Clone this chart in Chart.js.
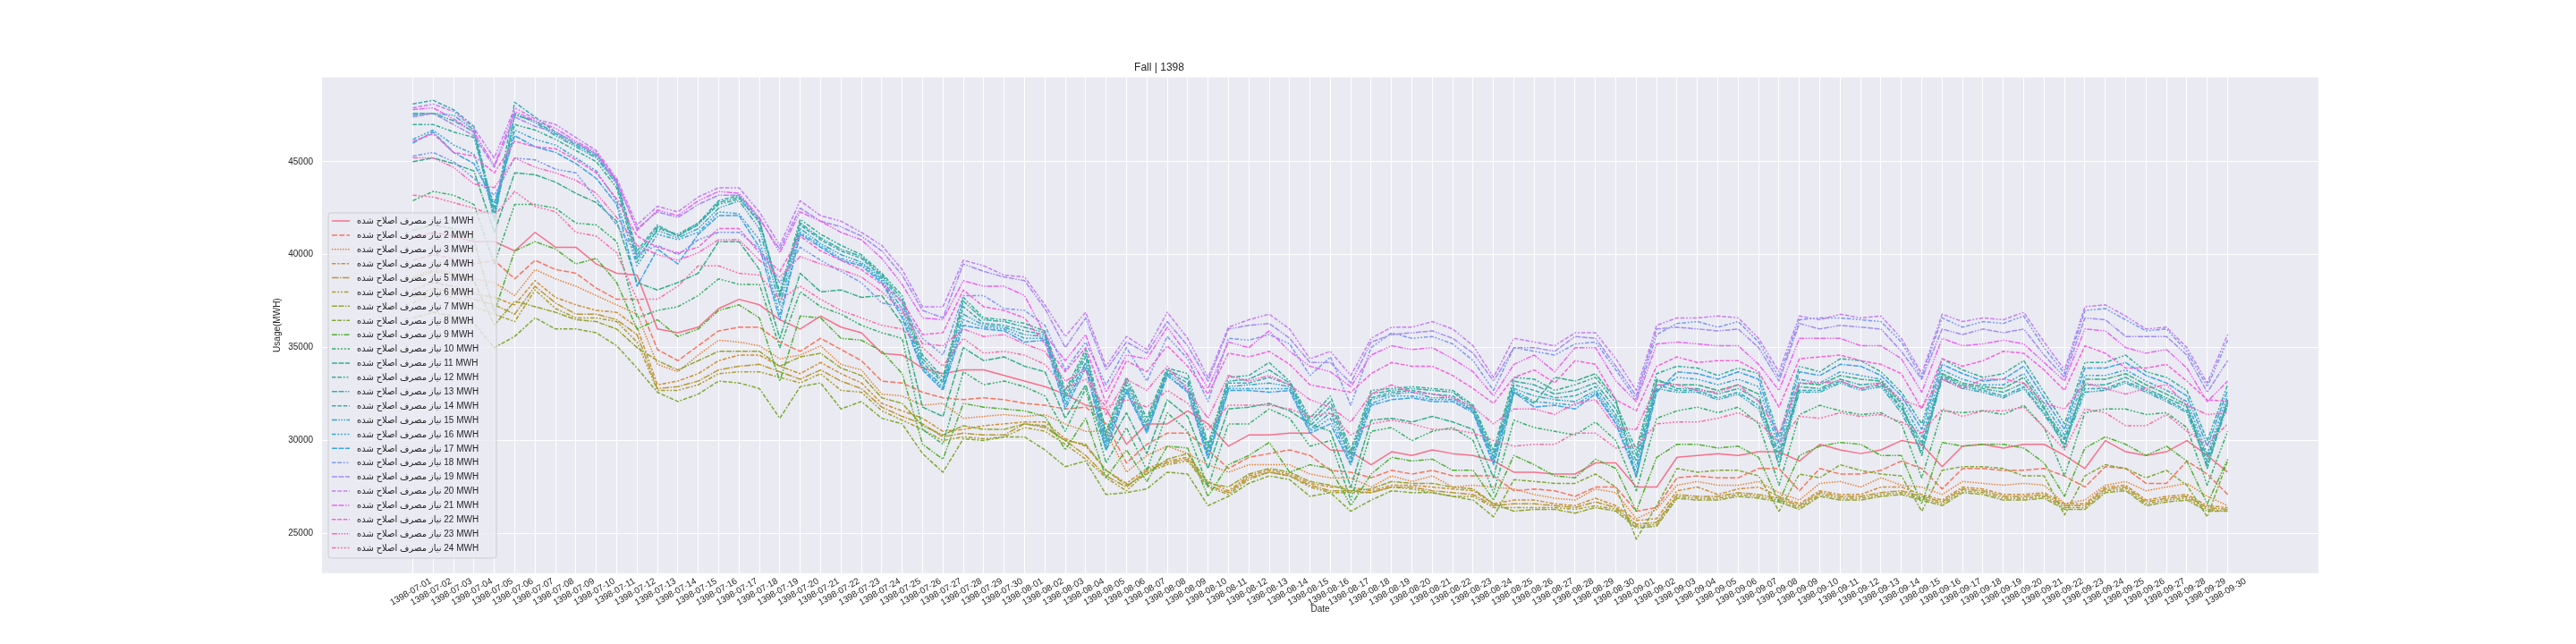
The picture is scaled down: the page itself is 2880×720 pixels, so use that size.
<!DOCTYPE html>
<html><head><meta charset="utf-8">
<script src="https://cdn.jsdelivr.net/npm/chart.js@4.4.1/dist/chart.umd.min.js"></script>
<style>html,body{margin:0;padding:0;background:#fff;}#wrap{width:2880px;height:720px;}</style>
</head><body><div id="wrap"><canvas id="c" width="2880" height="720"></canvas></div>
<script>
const dates = ["1398-07-01","1398-07-02","1398-07-03","1398-07-04","1398-07-05","1398-07-06","1398-07-07","1398-07-08","1398-07-09","1398-07-10",
"1398-07-11","1398-07-12","1398-07-13","1398-07-14","1398-07-15","1398-07-16","1398-07-17","1398-07-18","1398-07-19","1398-07-20",
"1398-07-21","1398-07-22","1398-07-23","1398-07-24","1398-07-25","1398-07-26","1398-07-27","1398-07-28","1398-07-29","1398-07-30",
"1398-08-01","1398-08-02","1398-08-03","1398-08-04","1398-08-05","1398-08-06","1398-08-07","1398-08-08","1398-08-09","1398-08-10",
"1398-08-11","1398-08-12","1398-08-13","1398-08-14","1398-08-15","1398-08-16","1398-08-17","1398-08-18","1398-08-19","1398-08-20",
"1398-08-21","1398-08-22","1398-08-23","1398-08-24","1398-08-25","1398-08-26","1398-08-27","1398-08-28","1398-08-29","1398-08-30",
"1398-09-01","1398-09-02","1398-09-03","1398-09-04","1398-09-05","1398-09-06","1398-09-07","1398-09-08","1398-09-09","1398-09-10",
"1398-09-11","1398-09-12","1398-09-13","1398-09-14","1398-09-15","1398-09-16","1398-09-17","1398-09-18","1398-09-19","1398-09-20",
"1398-09-21","1398-09-22","1398-09-23","1398-09-24","1398-09-25","1398-09-26","1398-09-27","1398-09-28","1398-09-29","1398-09-30"];

const seriesNames = ["نیاز مصرف اصلاح شده 1 MWH","نیاز مصرف اصلاح شده 2 MWH","نیاز مصرف اصلاح شده 3 MWH","نیاز مصرف اصلاح شده 4 MWH",
"نیاز مصرف اصلاح شده 5 MWH","نیاز مصرف اصلاح شده 6 MWH","نیاز مصرف اصلاح شده 7 MWH","نیاز مصرف اصلاح شده 8 MWH",
"نیاز مصرف اصلاح شده 9 MWH","نیاز مصرف اصلاح شده 10 MWH","نیاز مصرف اصلاح شده 11 MWH","نیاز مصرف اصلاح شده 12 MWH",
"نیاز مصرف اصلاح شده 13 MWH","نیاز مصرف اصلاح شده 14 MWH","نیاز مصرف اصلاح شده 15 MWH","نیاز مصرف اصلاح شده 16 MWH",
"نیاز مصرف اصلاح شده 17 MWH","نیاز مصرف اصلاح شده 18 MWH","نیاز مصرف اصلاح شده 19 MWH","نیاز مصرف اصلاح شده 20 MWH",
"نیاز مصرف اصلاح شده 21 MWH","نیاز مصرف اصلاح شده 22 MWH","نیاز مصرف اصلاح شده 23 MWH","نیاز مصرف اصلاح شده 24 MWH"];

const yTicks = [25000, 30000, 35000, 40000, 45000];

const h1 = [40900,41200,41000,40700,40700,40200,41200,40400,40400,39500,39000,38900,36000,35800,36100,37100,37600,37300,36500,36000,36700,36100,35800,34700,34600,33900,33600,33800,33800,33500,33200,32900,32500,31900,31700,29800,30900,30900,31600,30900,29700,30300,30300,30400,30400,29500,29400,28700,29400,29200,29500,29300,29200,28900,28300,28300,28200,28200,28800,28800,27500,27500,29100,29200,29300,29200,29400,29400,28900,29800,29500,29300,29500,30000,29800,28600,29700,29800,29600,29800,29800,29200,28500,30000,29400,29200,29400,30000,29200,28300];
const h2 = [39700,40000,39800,39500,39700,38700,39700,39200,39000,38200,37600,37600,34900,34300,35100,35900,36100,36100,35300,34800,35500,34900,34300,33200,33100,32600,32300,32200,32300,32200,32000,31900,31700,31800,30900,28800,29800,30400,30400,29500,28500,29100,29300,29500,29200,28400,28300,28000,28400,28200,28400,28100,28100,28100,27300,27400,27300,27000,27500,27500,26200,26400,28000,28100,28000,28000,28500,28500,27300,28500,28200,28200,28400,28900,28500,27400,28500,28500,28400,28400,28500,28100,27500,28600,28500,27700,27700,28900,28200,27100];
const h3 = [38800,39200,39000,38700,38500,37800,39200,38700,38300,37800,37300,36800,34100,33700,34600,35400,35300,35100,34400,34600,35100,34100,33800,32500,32400,31900,32000,31200,31300,31400,31300,31400,30900,30500,30500,28300,29200,29700,29300,28700,28300,28700,28700,28700,28200,28000,28000,27500,28100,27800,28100,27500,27600,27500,27400,27100,26900,26800,27400,27200,25800,26300,27600,27800,27600,27600,27800,27200,26800,27700,27800,27500,28000,27600,27500,27100,27800,27700,27600,27700,27600,26600,26800,27600,27800,27300,27500,27700,27000,26500];
const h4 = [38100,38500,38300,37900,37700,37300,38600,37700,37300,37000,36900,36100,33000,33200,33600,34300,34600,34600,34000,33600,34200,33600,33100,32000,31600,31200,30500,30600,30800,30900,31000,31000,30100,29700,28400,27700,28500,28900,29100,27800,27300,28100,28400,28200,27700,27500,27500,27300,27600,27600,27500,27400,27300,26600,26800,26800,26600,26500,26900,26500,25700,25800,27300,27500,27100,27400,27500,27000,26600,27300,27100,27100,27500,27500,27100,26800,27500,27400,27100,27100,27200,26600,26600,27500,27600,26800,27000,27100,26500,26400];
const h5 = [37700,38200,38000,37600,37300,36800,38300,37400,36800,36800,36500,35700,32800,32900,33200,33800,34000,34100,33700,33300,33800,33200,32800,31800,31300,30900,30200,30400,30300,30300,30900,30700,30000,29200,28100,27500,28400,28800,29000,27600,27200,28000,28300,28100,27600,27300,27300,27200,27500,27500,27300,27200,27100,26500,26600,26600,26500,26400,26700,26400,25500,25600,27100,27000,27000,27200,27100,26900,26500,27200,27000,27000,27200,27300,27000,26700,27400,27300,27000,27000,27100,26500,26500,27400,27500,26700,26900,27000,26400,26300];
const h6 = [37400,37900,37700,37200,36800,36400,38100,37100,36600,36600,36400,35300,32700,32700,33000,33600,33700,33700,33400,33100,33600,32700,32600,31600,31100,30600,30000,30200,30100,30200,30700,30500,29800,29000,28000,27300,28300,28700,28900,27500,27100,27900,28300,28100,27500,27200,27200,27200,27500,27400,27200,27000,27000,26400,26400,26400,26400,26300,26500,26300,25400,25500,27000,26900,26900,27100,27000,26800,26400,27100,26900,26900,27100,27200,26900,26600,27300,27200,26900,26900,27000,26400,26400,27300,27400,26600,26800,26900,26300,26200];
const h7 = [38700,39100,38900,38600,36200,37500,37200,36900,36500,36400,36000,35000,34300,33800,34300,34800,34800,34800,34000,34500,34700,33900,33500,32300,32000,30800,30300,30800,30600,30600,30900,30800,30000,29800,28400,27600,28200,29000,29300,27700,27500,28200,28500,28300,27800,27600,27300,27400,27800,27700,27700,27500,27400,26600,26200,26300,26300,26100,26400,26200,25300,25400,26900,26800,26800,27000,26900,26700,26300,27000,26800,26800,27000,27100,26800,26500,27200,27100,26800,26800,26900,26300,26300,27200,27300,26500,26700,26800,26200,26200];
const h8 = [36600,36900,36700,36300,35000,35600,36600,36000,36000,35800,35100,33900,32600,32100,32500,33200,33100,32800,31200,32900,33100,31700,32100,31200,30900,29300,28300,30100,30000,30200,30200,29500,28600,28900,27100,27200,27400,28300,28200,26500,27000,27700,28100,27900,27000,27200,26200,26800,27300,27200,27200,27000,26800,25900,27900,27800,27700,27700,28200,27500,24700,26500,28500,28300,28400,28400,28100,26200,28200,28000,28700,28400,28200,28100,26200,28400,28600,28600,28500,28100,28100,26000,28100,28700,28500,28000,28400,27600,25900,28900];
const h9 = [41300,41600,41400,40800,36900,40200,40700,40300,39500,39800,38500,36000,36500,35600,36000,37000,37300,36600,33200,36700,36600,35500,35400,34800,33600,29800,29000,32000,31800,31700,31600,31300,29500,31200,28000,29500,27800,29700,29600,27000,28700,29200,29900,28300,28700,28500,26500,28200,29100,28900,29000,28400,28400,26800,29200,28700,28100,28000,29000,28500,26200,29100,29800,29800,29600,29700,29100,26700,29200,29700,29900,29800,29200,29200,26600,29900,29700,29800,29800,29600,28800,27000,29600,30200,29800,29200,29700,28900,26600,29000];
const h10 = [42900,43400,43200,42700,39500,42700,42700,42500,41700,41600,40700,36600,37000,37200,37800,38700,38400,38400,35000,38000,37200,36800,36200,35800,35500,30600,29800,33700,33000,33200,32900,32400,30500,32800,28800,30700,28400,31500,30500,27500,30900,30900,31700,31200,29700,30000,26800,30500,30700,30000,30500,30700,30000,27200,31100,30700,30500,30300,31000,30000,27300,31200,31600,31800,31500,31800,30900,27600,31400,31900,31600,31400,31500,30900,28000,31600,31500,31600,31400,31900,30700,28100,31500,31700,31700,31400,31500,30700,27600,30500];
const h11 = [45000,45200,44900,44500,41200,44400,44300,43900,43300,42800,41800,38500,38100,38500,39000,40700,40700,39200,35500,39000,38000,38100,37700,37800,36300,31800,31300,35000,34300,34500,34000,33700,31200,33000,29500,31500,29300,32200,31300,28500,31700,31800,32000,31600,30900,30500,27500,31100,31200,31000,31300,31000,30600,28000,32600,32000,33400,33200,33600,32200,28000,33200,33000,33000,32700,33000,32500,28600,33100,33000,33500,33300,33200,32000,29200,33600,33100,32900,32800,33400,31800,29600,33300,33300,33600,33000,32500,31900,28500,32200];
const h12 = [47000,47000,46600,46300,42500,47000,46700,46200,45600,45000,43600,39600,41400,41100,41700,42700,43000,41800,38000,41900,41100,40500,40000,39000,37800,34600,33400,37700,36600,36500,36300,35900,32700,34900,30500,33400,31200,33900,33600,29800,33400,33500,34200,33200,31200,32400,29500,32700,32800,32900,32800,32700,31900,29500,33400,33300,32700,33000,33400,32000,29500,33600,34000,33900,33500,33900,33600,30200,34000,33700,34400,34300,33700,32600,30900,34400,33800,33400,33600,34300,32600,30900,34200,34200,34600,33700,33400,32700,30000,33000];
const h13 = [47600,47600,47200,46600,42000,47500,47200,46500,45900,45300,43900,40000,41500,41000,41600,42800,43100,41700,37800,41700,40900,40300,39900,38900,37600,34400,33200,37500,36500,36400,36100,35800,32500,34700,30300,33200,31000,33800,33300,29600,33200,33300,33800,33100,31000,32100,29300,32500,32700,32800,32700,32600,31800,29300,33200,33000,32500,32700,33100,31700,29200,33300,32800,32800,32500,32800,32200,29300,32900,32800,33300,33000,33100,31800,29900,33500,33000,32800,32600,33100,31700,30100,33000,33000,33400,32800,32300,31800,29100,32100];
const h14 = [48100,48300,47800,46900,42200,48200,47400,46600,46000,45400,44000,40200,41600,41000,41700,42900,43200,41900,37700,41600,40800,40200,39800,38800,37400,34200,33100,37200,36300,36200,35900,35700,32300,34500,30100,33000,30800,33700,33100,29400,33100,33100,33400,33000,30800,31800,29100,32300,32600,32700,32500,32400,31700,29100,33000,32700,32300,32400,32900,31400,28900,33000,32700,32700,32300,32600,31900,29100,32700,32700,33200,32800,33000,31700,29700,33400,32900,32700,32400,32900,31500,30000,32800,32800,33200,32700,32200,31600,28900,32000];
const h15 = [47500,47600,47500,46700,41800,47600,47100,46400,45800,45200,43800,39800,41300,40900,41400,42500,42900,41400,37300,41400,40600,40000,39600,38700,37100,34000,32900,36800,36200,36100,35700,35600,32100,34200,29900,32800,30600,33600,32900,29200,32900,33000,33100,32900,30600,31500,29000,32200,32500,32600,32300,32300,31600,29000,32800,32400,32200,32100,32700,31200,28600,32800,32600,32600,32200,32500,31700,28800,32600,32600,33100,32700,32900,31500,29400,33300,32800,32600,32300,32800,31400,29800,32600,32700,33100,32600,32100,31500,28700,31900];
const h16 = [46200,46700,45900,45400,42300,46700,46200,45900,45200,44500,42900,39400,41100,40800,41200,42300,42200,40800,36800,41200,40500,39800,39500,38600,36800,33900,32800,36500,36100,36000,35500,35500,31900,34100,29700,32700,30500,33500,32700,29100,32800,32800,32800,32800,30500,31200,28800,32000,32400,32400,32200,32200,31600,28800,32700,32100,32000,31900,32600,31000,28300,32700,33400,33300,33000,33300,32900,29600,33300,33100,33700,33500,33300,32100,30200,33800,33300,33000,33000,33600,32000,30300,33500,33500,33800,33200,32700,32100,29300,32400];
const h17 = [46000,46600,45500,44900,42800,46400,45800,45500,44900,44100,42700,38300,40300,39500,41100,42100,42100,40400,36500,41100,40400,39700,39400,38500,36600,33800,32700,36200,36000,35900,35300,35400,31700,33900,29500,32600,30400,33500,32600,29000,32700,32700,32600,32700,30400,30900,28700,31900,32200,32300,32100,32100,31500,28700,32600,31800,31900,31700,32500,30900,28100,32600,33700,33600,33300,33700,33300,29900,33700,33500,34100,34000,33500,32400,30600,34100,33600,33200,33300,34000,32300,30600,33900,33900,34200,33500,33100,32400,29700,32700];
const h18 = [45300,45500,45000,44100,43200,45200,45100,44600,44400,43000,41600,40000,40500,40000,40800,41200,41200,40300,38500,40400,39700,39100,38500,37400,37200,35500,34600,37800,37800,37100,37000,36200,33800,35300,33000,35000,33200,35600,34400,32100,35500,35400,35700,35200,33500,34500,31900,35000,35800,35500,35600,35200,34300,32700,35000,34800,34600,35200,35300,33800,32200,35700,36300,36400,36100,36400,35300,33400,36500,36600,36600,36500,36400,35300,33400,36600,36100,36400,36300,36700,35000,33600,37000,37100,36500,35900,36000,34800,32900,35400];
const h19 = [47400,47600,47000,46400,44700,47400,46900,46600,46000,45400,43900,41400,42300,42000,42700,43200,43200,41900,40300,42500,41800,41500,41000,40200,38900,37000,36600,39500,39100,38800,38600,37100,35000,36600,33800,35300,34700,36400,35100,33200,36000,36200,36300,35500,34200,34200,33100,35300,35700,35800,35900,35500,34700,33200,35000,35000,34800,35600,35500,34000,32400,36000,36100,36000,35900,36000,35000,33200,36300,36000,36200,36100,36000,34800,33300,36000,35700,36000,35800,36000,34600,33400,36600,36500,35600,35600,35600,34600,32600,34300];
const h20 = [47900,48100,47700,46800,45200,47900,47300,47000,46300,45600,44100,41600,42600,42300,43100,43600,43600,42300,40500,42900,42100,41800,41200,40500,39200,37200,37200,39700,39400,38900,38800,37300,35600,36900,34000,35600,34900,36900,35500,33400,36100,36500,36800,36000,34400,34800,33500,35500,36100,36100,36400,36000,35100,33400,35500,35300,35100,35800,35800,34400,32700,36200,36600,36600,36700,36600,35500,33700,36700,36500,36800,36600,36700,35500,33600,36800,36400,36600,36500,36900,35300,33800,37200,37300,36700,36000,36100,35000,33100,35700];
const h21 = [47800,47900,47300,46600,44800,47700,47200,46800,46100,45500,44000,41300,42400,42100,42900,43400,43300,42000,40100,42300,41800,41200,40800,39800,38400,36600,36500,38600,38300,38300,37800,35700,34300,35700,32600,34600,34400,36100,34600,32800,35300,35000,35900,34800,34000,33700,32900,34600,35100,34900,35000,34400,33700,32400,34100,34600,33700,35000,35000,33200,32100,35200,35300,35200,35100,35100,34100,32700,35500,35500,35500,35100,35100,34400,32600,35500,35100,35200,35400,35200,34200,33200,36000,35900,35000,34700,34900,33900,32100,33200];
const h22 = [46100,46500,45500,45300,44400,46100,45800,45700,45100,44400,43000,41000,40400,40100,40400,41400,41400,40100,39100,41000,40200,39700,39200,38400,37500,35700,35800,38100,37200,37000,36600,35200,33700,35000,32000,34300,33700,35100,34000,32500,34700,34500,34800,34100,33000,32800,32600,33600,34200,34000,34000,33500,32800,32000,33400,33800,33100,34300,34100,32200,31600,34000,34500,34200,34300,34300,33700,31800,34400,34500,34600,34300,34100,33600,31700,34400,34000,34300,34800,34700,33800,32700,35100,34700,33900,33900,34100,33200,32200,32100];
const h23 = [45200,45200,44700,43800,43600,45200,44700,44400,44000,43300,42000,40500,40000,39700,40100,40800,40800,39700,38800,39900,39500,39200,38800,38000,37000,35200,35100,36000,35600,35700,35200,34800,33200,33800,31400,33300,32700,34000,32700,31200,33500,33200,33500,33000,32200,31800,31000,32500,33000,32600,32500,32300,31800,30900,31700,31700,31400,32000,32200,30700,30600,33000,33000,32700,32600,33000,32100,30400,33100,33100,33200,32800,33100,32200,31800,33300,32800,33300,33300,33100,32000,31700,33100,32800,32500,32800,33000,31900,31400,31500];
const h24 = [43200,43100,42800,42500,42100,43400,42600,42300,41200,41000,40100,37600,37600,38300,39400,39400,39000,38900,37600,38300,37600,37000,36600,36200,36000,35000,34000,35500,34700,34800,34600,34100,32800,33300,31800,32200,31800,32700,32000,30600,31900,31900,31900,31700,31300,31500,30300,30900,31100,30900,30600,30600,30400,30000,29700,29800,29800,30400,30400,29600,29700,30900,31000,31000,31200,31500,31000,29900,31300,31200,31500,31300,31400,31000,30400,31700,31300,31600,31600,31800,30700,29500,31700,31500,30800,30800,31400,30500,29800,30900];

const seriesValues = [h1,h2,h3,h4,h5,h6,h7,h8,h9,h10,h11,h12,h13,h14,h15,h16,h17,h18,h19,h20,h21,h22,h23,h24];

// seaborn-style line dashes (in units of line width)
const dashSpecs = [[],[4,1.5],[1,1],[3,1.25,1.5,1.25],[5,1,1,1],
[3,1.25,1.25,1.25,1.25,1.25],[4,1,4,1,1,1],[3,1.25,3,1.25,1.25,1.25],[4,1,1,1,1,1],
[3,1.25,1.25,1.25,1.25,1.25,1.25,1.25],[4,1,4,1,4,1,1,1],[3,1.25,3,1.25,1.25,1.25,1.25,1.25],[4,1,4,1,1,1,1,1],[3,1.25,3,1.25,3,1.25,1.25,1.25],[4,1,1,1,1,1,1,1],
[3,1.25,1.25,1.25,1.25,1.25,1.25,1.25,1.25,1.25],[4,1,4,1,4,1,4,1,1,1],[3,1.25,3,1.25,1.25,1.25,1.25,1.25,1.25,1.25],[4,1,4,1,4,1,1,1,1,1],[3,1.25,3,1.25,3,1.25,1.25,1.25,1.25,1.25],[4,1,4,1,1,1,1,1,1,1],[3,1.25,3,1.25,3,1.25,3,1.25,1.25,1.25],[4,1,1,1,1,1,1,1,1,1],
[3,1.25,1.25,1.25,1.25,1.25,1.25,1.25,1.25,1.25,1.25,1.25]];

// HUSL (seaborn's husl module) -> RGB
function huslToRgb(H, S, L) {
  const m = [[3.2406,-1.5372,-0.4986],[-0.9689,1.8758,0.0415],[0.0557,-0.2040,1.0570]];
  const refY = 1.0, refU = 0.19784, refV = 0.46834, labE = 0.008856, labK = 903.3;
  const hrad = H * Math.PI / 180;
  const sinH = Math.sin(hrad), cosH = Math.cos(hrad);
  const sub1 = Math.pow(L + 16, 3) / 1560896;
  const sub2 = sub1 > 0.008856 ? sub1 : L / 903.3;
  let maxC = Infinity;
  for (const [m1, m2, m3] of m) {
    const top = (0.99915 * m1 + 1.05122 * m2 + 1.14460 * m3) * sub2;
    const rb = 0.86330 * m3 - 0.17266 * m2;
    const lb = 0.12949 * m3 - 0.38848 * m1;
    const bottom = (rb * sinH + lb * cosH) * sub2;
    for (const t of [0, 1]) {
      const C = L * (top - 1.05122 * t) / (bottom + 0.17266 * sinH * t);
      if (C > 0 && C < maxC) maxC = C;
    }
  }
  const C = maxC / 100 * S;
  const U = Math.cos(hrad) * C, V = Math.sin(hrad) * C;
  const fInv = t => Math.pow(t, 3) > labE ? Math.pow(t, 3) : (116 * t - 16) / labK;
  const Y = fInv((L + 16) / 116) * refY;
  const varU = U / (13 * L) + refU, varV = V / (13 * L) + refV;
  const X = -(9 * Y * varU) / ((varU - 4) * varV - varU * varV);
  const Z = (9 * Y - 15 * varV * Y - varV * X) / (3 * varV);
  const fromLin = c => c <= 0.0031308 ? 12.92 * c : 1.055 * Math.pow(c, 1 / 2.4) - 0.055;
  return m.map(r => Math.min(1, Math.max(0, fromLin(r[0] * X + r[1] * Y + r[2] * Z))));
}
const colors = seriesValues.map((_, i) => {
  const h = ((i / 24) + 0.01) % 1 * 359;
  const rgb = huslToRgb(h, 0.9 * 99, 0.65 * 99);
  return 'rgb(' + rgb.map(c => Math.round(c * 255)).join(',') + ')';
});

const LW = 1.5;
const FONT = "'Liberation Sans', Arial, 'DejaVu Sans', sans-serif";
const TXT = '#262626';

const bgPlugin = {
  id: 'bg',
  beforeDraw(chart) {
    const {ctx, chartArea: a} = chart;
    ctx.save();
    ctx.fillStyle = '#ffffff';
    ctx.fillRect(0, 0, chart.width, chart.height);
    ctx.fillStyle = '#EAEAF2';
    ctx.fillRect(a.left, a.top, a.right - a.left, a.bottom - a.top);
    ctx.restore();
  }
};

const legendPlugin = {
  id: 'mplLegend',
  afterDatasetsDraw(chart) {
    const ctx = chart.ctx;
    const ds = chart.data.datasets;
    ctx.save();
    ctx.font = '10px ' + FONT;
    const boxX = 367, boxY = 238, boxH = 386;
    const textX = 399;
    let maxW = 0;
    ds.forEach(d => { maxW = Math.max(maxW, ctx.measureText(d.label.replace(/ (\d+ MWH)$/, ' \u200E$1')).width); });
    const boxW = Math.max(188, textX + maxW + 5 - boxX);
    const r = 3;
    ctx.beginPath();
    ctx.moveTo(boxX + r, boxY);
    ctx.lineTo(boxX + boxW - r, boxY);
    ctx.arcTo(boxX + boxW, boxY, boxX + boxW, boxY + r, r);
    ctx.lineTo(boxX + boxW, boxY + boxH - r);
    ctx.arcTo(boxX + boxW, boxY + boxH, boxX + boxW - r, boxY + boxH, r);
    ctx.lineTo(boxX + r, boxY + boxH);
    ctx.arcTo(boxX, boxY + boxH, boxX, boxY + boxH - r, r);
    ctx.lineTo(boxX, boxY + r);
    ctx.arcTo(boxX, boxY, boxX + r, boxY, r);
    ctx.closePath();
    ctx.fillStyle = 'rgba(234,234,242,0.8)';
    ctx.fill();
    ctx.lineWidth = 1;
    ctx.strokeStyle = '#cccccc';
    ctx.stroke();
    const y0 = 247, step = (612.6 - 247) / 23;
    ds.forEach((d, i) => {
      const y = y0 + i * step;
      ctx.beginPath();
      ctx.setLineDash(d.borderDash);
      ctx.lineWidth = LW;
      ctx.lineCap = 'butt';
      ctx.strokeStyle = d.borderColor;
      ctx.moveTo(371, y);
      ctx.lineTo(391, y);
      ctx.stroke();
      ctx.setLineDash([]);
      ctx.fillStyle = TXT;
      ctx.textAlign = 'left';
      ctx.textBaseline = 'middle';
      ctx.direction = 'ltr';
      ctx.fillText(d.label.replace(/ (\d+ MWH)$/, ' \u200E$1'), textX, y + 0.5);
    });
    ctx.restore();
  }
};

const datasets = seriesValues.map((vals, i) => ({
  label: seriesNames[i],
  data: vals.map((v, j) => ({x: j, y: v})),
  borderColor: colors[i],
  backgroundColor: colors[i],
  borderWidth: LW,
  borderDash: dashSpecs[i].map(d => d * LW),
  borderCapStyle: 'butt',
  borderJoinStyle: 'round',
  pointRadius: 0,
  pointHoverRadius: 0,
  fill: false,
  tension: 0,
  order: 24 - i
}));

new Chart(document.getElementById('c'), {
  type: 'line',
  data: {datasets},
  options: {
    responsive: false,
    animation: false,
    devicePixelRatio: 1,
    events: [],
    layout: {padding: {left: 0, right: 288, top: 0, bottom: 0}},
    plugins: {
      legend: {display: false},
      tooltip: {enabled: false},
      title: {display: true, text: 'Fall | 1398', color: TXT,
        font: {family: FONT, size: 12, weight: 'normal', lineHeight: 1.2},
        padding: {top: 68.6, bottom: 3.4}}
    },
    scales: {
      x: {
        type: 'linear', min: -4.45, max: 93.45,
        afterBuildTicks: axis => { axis.ticks = dates.map((d, i) => ({value: i})); },
        afterFit: axis => { axis.height = 79.2; },
        grid: {color: '#ffffff', lineWidth: 1, drawTicks: false},
        border: {display: false},
        ticks: {autoSkip: false, minRotation: 30, maxRotation: 30, padding: 3, labelOffset: 20,
          color: TXT, font: {family: FONT, size: 10},
          callback: v => dates[v]},
        title: {display: true, text: 'Date', color: TXT, font: {family: FONT, size: 10, lineHeight: 1.2},
          padding: {top: 0, bottom: 32.4}}
      },
      y: {
        type: 'linear', min: 22870, max: 49540,
        afterBuildTicks: axis => { axis.ticks = yTicks.map(v => ({value: v})); },
        afterFit: axis => { axis.width = 360; },
        grid: {color: '#ffffff', lineWidth: 1, drawTicks: false},
        border: {display: false},
        ticks: {padding: 10, color: TXT, font: {family: FONT, size: 10}, callback: v => String(v)},
        title: {display: true, text: 'Usage(MWH)', color: TXT, font: {family: FONT, size: 10, lineHeight: 1.2},
          padding: {top: 304.7, bottom: 0}}
      }
    }
  },
  plugins: [bgPlugin, legendPlugin]
});
</script>
</body></html>
